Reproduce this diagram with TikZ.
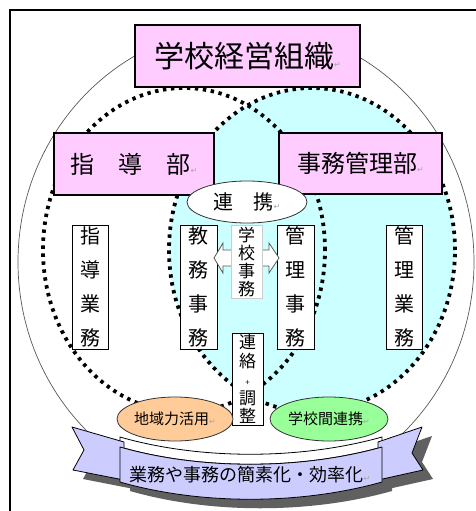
\documentclass[tikz,border=0pt]{standalone}
\usepackage{fontspec}
\setmainfont{Noto Sans CJK JP}
\newfontfamily\symf{DejaVu Sans}
\usetikzlibrary{shapes.geometric}
\definecolor{pinkfill}{HTML}{FFCCFF}
\definecolor{cyanfill}{HTML}{CCFFFF}
\definecolor{peach}{HTML}{FFCC99}
\definecolor{lgreen}{HTML}{99FF99}
\definecolor{lav}{HTML}{CCCCFF}
\newcommand{\retmark}{{\symf\fontsize{8}{8}\selectfont\color{gray!70}↵}}
\begin{document}
\begin{tikzpicture}[x=1pt,y=-1pt,
  pinkbox/.style={draw=black,line width=1.5pt,fill=pinkfill,inner sep=0pt},
  vbox/.style={draw=black,line width=0.8pt,fill=white,inner sep=0pt,align=center,minimum width=36pt,minimum height=124pt,font=\fontsize{20}{34}\selectfont},
  dotline/.style={line width=3.8pt,dash pattern=on 3.4pt off 4.6pt},
  oval/.style={ellipse,draw=black!80,line width=0.8pt,inner sep=0pt},
  ribbonpart/.style={fill=lav,draw=black,line width=0.8pt,line join=round},
  shadowpart/.style={fill=gray!75!black}]
\useasboundingbox (0,0) rectangle (475,511);
\fill[white] (0,0) rectangle (475,511);
% frame
\draw[line width=2pt] (10,530) -- (10,10) -- (490,10);
% big ellipse
\draw[gray!70!black,line width=0.7pt] (246,262) ellipse [x radius=228pt,y radius=236pt];
% dotted circles
\fill[cyanfill] (312,250) ellipse [x radius=143pt,y radius=162pt];
\draw[dotline] (184,250) ellipse [x radius=141pt,y radius=162pt];
\draw[dotline] (312,250) ellipse [x radius=143pt,y radius=162pt];
% top boxes
\node[pinkbox,minimum width=225pt,minimum height=62pt] (title) at (247.5,56) {\fontsize{30}{30}\selectfont 学校経営組織\retmark};
\node[pinkbox,minimum width=160pt,minimum height=62pt] (shido) at (134,164) {\fontsize{24}{24}\selectfont 指　導　部\retmark};
\node[pinkbox,minimum width=163pt,minimum height=61pt] (jimu) at (360.5,163.5) {\fontsize{24}{24}\selectfont 事務管理部\retmark};
% renkei
\node[oval,fill=white,minimum width=120pt,minimum height=42pt] (renkei) at (247,202) {\fontsize{20}{20}\selectfont 連　携\retmark};
% vertical boxes
\node[vbox] (b1) at (90,287) {指\\導\\業\\務};
\node[vbox,minimum width=37pt] (b2) at (198.5,287) {教\\務\\事\\務};
\node[vbox,minimum width=37pt] (b3) at (295.5,287) {管\\理\\事\\務};
\node[vbox] (b4) at (404,287) {管\\理\\業\\務};
% double arrow
\draw[gray!70!black,fill=white,line width=0.8pt] (214,258) -- (223,243) -- (223,250) -- (269,250) -- (269,243) -- (279,258) -- (269,273) -- (269,266) -- (223,266) -- (223,273) -- cycle;
\node[draw=gray!40,fill=white,inner sep=0pt,minimum width=31pt,minimum height=73pt,align=center,font=\fontsize{17}{18}\selectfont] (gakko) at (246.5,261.5) {学\\校\\事\\務};
\node[draw=black,line width=0.8pt,fill=white,inner sep=0pt,minimum width=31pt,minimum height=92pt,align=center,font=\fontsize{17}{18.5}\selectfont] (renraku) at (247.5,379) {連\\絡\\{\fontsize{8}{8}\selectfont +}\\調\\整};
% ribbon shadow
\begin{scope}[shift={(10,9)}]
\fill[shadowpart] (72,427) -- (124,442) -- (124,480) -- (73,470) -- (84,450) -- cycle;
\fill[shadowpart] (422,427) -- (378,442) -- (378,480) -- (423,470) -- (412,453) -- cycle;
\fill[shadowpart] (120,447) .. controls (200,470) and (300,470) .. (382,447) -- (382,482) .. controls (300,505) and (200,505) .. (120,482) -- cycle;
\end{scope}
% ribbon
\draw[fill=white,line width=0.8pt] (120,437) .. controls (200,460) and (300,460) .. (382,437) -- (382,447) .. controls (300,470) and (200,470) .. (120,447) -- cycle;
\draw[ribbonpart] (72,427) -- (124,442) -- (124,480) -- (73,470) -- (84,450) -- cycle;
\draw[ribbonpart] (422,427) -- (378,442) -- (378,480) -- (423,470) -- (412,453) -- cycle;
\draw[ribbonpart] (120,447) .. controls (200,470) and (300,470) .. (382,447) -- (382,482) .. controls (300,505) and (200,505) .. (120,482) -- cycle;
\node[inner sep=0pt] (ribbontext) at (250,475) {\fontsize{18}{18}\selectfont 業務や事務の簡素化・効率化\retmark};
% bottom ellipses
\node[oval,fill=peach,minimum width=116pt,minimum height=44pt] (chiiki) at (175,419) {\fontsize{15}{15}\selectfont 地域力活用\retmark};
\node[oval,fill=lgreen,minimum width=118pt,minimum height=44pt] (gakkokan) at (329,419) {\fontsize{15}{15}\selectfont 学校間連携\retmark};
\end{tikzpicture}
\end{document}
